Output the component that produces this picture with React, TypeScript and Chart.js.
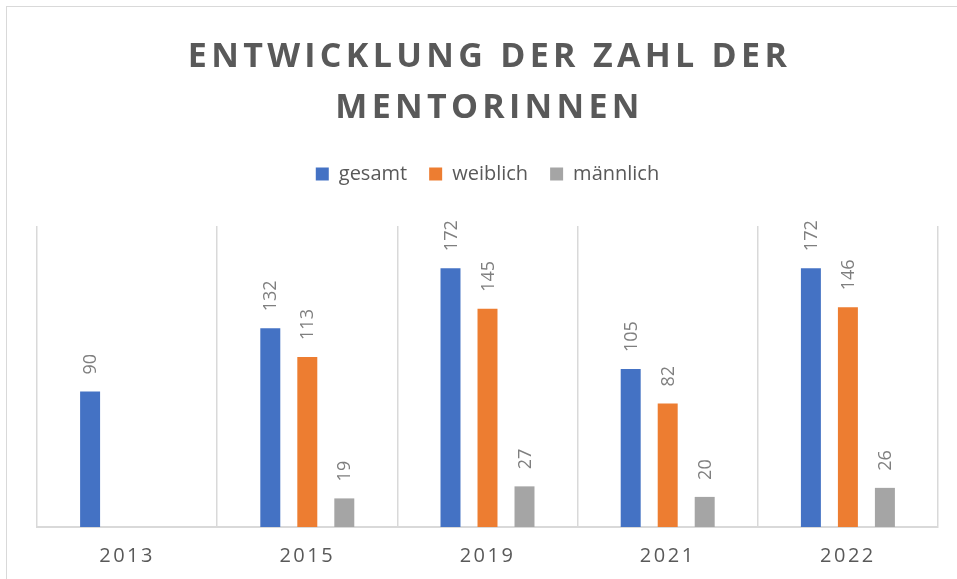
import React, { useEffect, useRef } from "react";
import { Chart, registerables } from "chart.js";

Chart.register(...registerables);

const titleLines = ["ENTWICKLUNG DER ZAHL DER", "MENTORINNEN"];
const categories = ["2013", "2015", "2019", "2021", "2022"];
const seriesNames = ["gesamt", "weiblich", "männlich"];
const gesamt = [90, 132, 172, 105, 172];
const weiblich = [null, 113, 145, 82, 146];
const maennlich = [null, 19, 27, 20, 26];
const seriesColors = ["#4472C4", "#ED7D31", "#A5A5A5"];

const FONT = '"Open Sans", "DejaVu Sans", sans-serif';
const TEXT = "#595959";

export default function App() {
  const ref = useRef<HTMLCanvasElement | null>(null);

  useEffect(() => {
    const canvas = ref.current;
    if (!canvas) return;

    const framePlugin = {
      id: "frame",
      beforeDraw(chart: any) {
        const ctx = chart.ctx;
        ctx.save();
        ctx.fillStyle = "#ffffff";
        ctx.fillRect(0, 0, chart.width, chart.height);
        ctx.strokeStyle = "#d9d9d9";
        ctx.lineWidth = 1;
        ctx.strokeRect(6.5, 6.5, chart.width + 100, chart.height + 100);
        ctx.restore();
      },
    };

    const legendSpace = {
      id: "legendSpace",
      beforeLayout(chart: any) {
        const l = chart.legend;
        if (l && !l._wrapped) {
          const orig = l.fit;
          l.fit = function () {
            orig.call(this);
            this.height += 32;
          };
          l._wrapped = true;
        }
      },
    };

    const textPlugin = {
      id: "texts",
      afterDatasetsDraw(chart: any) {
        const ctx = chart.ctx;
        ctx.save();
        ctx.fillStyle = "#7f7f7f";
        ctx.font = `18px ${FONT}`;
        ctx.textAlign = "left";
        ctx.textBaseline = "middle";
        chart.data.datasets.forEach((ds: any, i: number) => {
          const meta = chart.getDatasetMeta(i);
          meta.data.forEach((bar: any, j: number) => {
            const v = ds.data[j];
            if (v === null || v === undefined) return;
            ctx.save();
            ctx.translate(bar.x + 1, bar.y - 17);
            ctx.rotate(-Math.PI / 2);
            ctx.fillText(String(v), 0, 0);
            ctx.restore();
          });
        });
        ctx.restore();
      },
      afterDraw(chart: any) {
        const ctx = chart.ctx;
        const xs = chart.scales.x;
        ctx.save();
        ctx.fillStyle = TEXT;
        ctx.font = `20px ${FONT}`;
        (ctx as any).letterSpacing = "2.5px";
        ctx.textAlign = "center";
        ctx.textBaseline = "alphabetic";
        categories.forEach((c, i) => {
          ctx.fillText(c, xs.getPixelForValue(i), chart.chartArea.bottom + 35);
        });
        ctx.font = `bold 34px ${FONT}`;
        (ctx as any).letterSpacing = "4.3px";
        const cx = (chart.chartArea.left + chart.chartArea.right) / 2 + 2;
        ctx.fillText(titleLines[0], cx, 67);
        ctx.fillText(titleLines[1], cx, 118);
        ctx.restore();
      },
    };

    const chart = new Chart(canvas, {
      type: "bar",
      data: {
        labels: categories,
        datasets: [
          { label: seriesNames[0], data: gesamt, backgroundColor: seriesColors[0], borderWidth: 0 },
          { label: seriesNames[1], data: weiblich, backgroundColor: seriesColors[1], borderWidth: 0 },
          { label: seriesNames[2], data: maennlich, backgroundColor: seriesColors[2], borderWidth: 0 },
        ],
      },
      options: {
        responsive: false,
        animation: false,
        devicePixelRatio: 1,
        datasets: {
          bar: { categoryPercentage: 0.616, barPercentage: 0.54 },
        },
        layout: { padding: { top: 142, left: 37, right: 19, bottom: 52 } },
        plugins: {
          title: { display: false },
          tooltip: { enabled: false },
          legend: {
            display: true,
            position: "top",
            labels: {
              boxWidth: 13,
              boxHeight: 13,
              padding: 22,
              color: TEXT,
              font: { family: FONT, size: 20 },
            },
          },
        },
        scales: {
          x: {
            display: true,
            grid: { display: true, offset: true, color: "#d9d9d9", lineWidth: 1.5, drawTicks: false },
            border: { display: true, color: "#d9d9d9", width: 2 },
            ticks: { display: false },
          },
          y: {
            display: false,
            min: 0,
            max: 200,
            grid: { display: false },
          },
        },
      },
      plugins: [framePlugin, legendSpace, textPlugin],
    });

    return () => chart.destroy();
  }, []);

  return (
    <div style={{ position: "absolute", left: 0, top: 0, width: 957, height: 579 }}>
      <canvas ref={ref} width={957} height={579} style={{ display: "block" }} />
    </div>
  );
}
